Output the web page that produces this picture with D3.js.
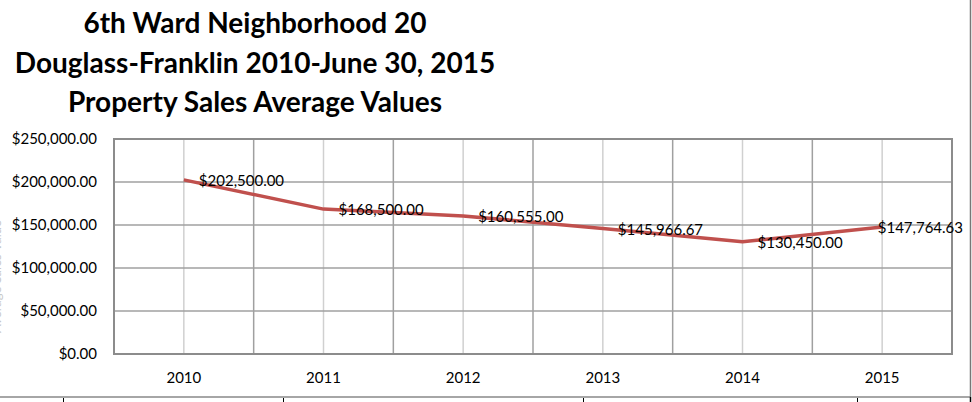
<!DOCTYPE html>
<html>
<head>
<meta charset="utf-8">
<script src="https://cdn.jsdelivr.net/npm/d3@7"></script>
<style>
  html, body { margin: 0; padding: 0; background: #fff; }
  svg { display: block; font-family: Lato, "Open Sans", sans-serif; }
</style>
</head>
<body>
<svg id="chart"></svg>
<script>
// data
const years = ['2010', '2011', '2012', '2013', '2014', '2015'];
const avgValues = [202500.00, 168500.00, 160555.00, 145966.67, 130450.00, 147764.63];
const yTicks = [0, 50000, 100000, 150000, 200000, 250000];
const titleLines = [
    '6th Ward Neighborhood 20',
    'Douglass-Franklin 2010-June 30, 2015',
    'Property Sales Average Values'
];

const W = 972, H = 402;
const margin = {top: 139, right: 20, bottom: 48, left: 114};
const innerW = W - margin.left - margin.right;
const innerH = H - margin.top - margin.bottom;

const svg = d3.select('#chart')
    .attr('width', W)
    .attr('height', H);

const money = v => '$' + d3.format(',.2f')(v);

// outer frame (sheet cell borders)
svg.append('line')
    .attr('x1', 0).attr('x2', 970.5)
    .attr('y1', 397).attr('y2', 397)
    .attr('stroke', '#a6a6a6').attr('stroke-width', 2);
svg.append('line')
    .attr('x1', 970.5).attr('x2', 970.5)
    .attr('y1', 0).attr('y2', 397)
    .attr('stroke', '#777').attr('stroke-width', 1.5);
svg.append('line')
    .attr('x1', 970.5).attr('x2', 970.5)
    .attr('y1', 397).attr('y2', H)
    .attr('stroke', '#000').attr('stroke-width', 1.5);
[63, 283, 583, 857].forEach(x => {
    svg.append('line')
        .attr('x1', x + 0.5).attr('x2', x + 0.5)
        .attr('y1', 398).attr('y2', H)
        .attr('stroke', '#000');
});

// title
svg.append('g')
    .selectAll('text')
    .data(titleLines)
    .join('text')
    .attr('x', 255)
    .attr('y', (d, i) => 33 + i * 39.5)
    .attr('text-anchor', 'middle')
    .style('font-size', '28px')
    .style('font-weight', 'bold')
    .attr('fill', '#000')
    .text(d => d);

// y axis title, mostly outside the left edge as in the original
svg.append('text')
    .attr('transform', `translate(1, ${margin.top + innerH / 2 + 30}) rotate(-90)`)
    .attr('text-anchor', 'middle')
    .style('font-size', '13px')
    .attr('fill', '#c8c8c8')
    .text('Average Sales Value');

const chart = svg.append('g')
    .attr('transform', `translate(${margin.left}, ${margin.top})`);

const xBand = d3.scaleBand()
    .domain(years)
    .range([0, innerW]);

const xscale = d => xBand(d) + xBand.bandwidth() / 2;

const yscale = d3.scaleLinear()
    .domain([0, 250000])
    .range([innerH, 0]);

// light gridlines through category centres
chart.append('g')
    .selectAll('line')
    .data(years)
    .join('line')
    .attr('x1', d => xscale(d)).attr('x2', d => xscale(d))
    .attr('y1', 0).attr('y2', innerH)
    .attr('stroke', '#d0d0d0').attr('stroke-width', 1.5);

// darker gridlines on category boundaries
chart.append('g')
    .selectAll('line')
    .data(years.slice(1))
    .join('line')
    .attr('x1', d => xBand(d)).attr('x2', d => xBand(d))
    .attr('y1', 0).attr('y2', innerH)
    .attr('stroke', '#a0a0a0').attr('stroke-width', 1.5);

// horizontal gridlines
chart.append('g')
    .selectAll('line')
    .data(yTicks)
    .join('line')
    .attr('x1', 0).attr('x2', innerW)
    .attr('y1', d => yscale(d)).attr('y2', d => yscale(d))
    .attr('stroke', '#a0a0a0').attr('stroke-width', 1.5);

// plot frame
chart.append('rect')
    .attr('x', 0).attr('y', 0)
    .attr('width', innerW).attr('height', innerH)
    .attr('fill', 'none')
    .attr('stroke', '#8c8c8c').attr('stroke-width', 2);

// y axis
const yaxis = d3.axisLeft(yscale)
    .tickValues(yTicks)
    .tickSize(0)
    .tickPadding(17)
    .tickFormat(money);
const yaxis_group = chart.append('g').call(yaxis);
yaxis_group.select('.domain').remove();
yaxis_group.selectAll('text')
    .style('font-size', '15px')
    .style('font-family', 'Lato, sans-serif')
    .attr('fill', '#000');

// x axis
const xaxis = d3.axisBottom(xBand)
    .tickSize(0)
    .tickPadding(18);
const xaxis_group = chart.append('g')
    .attr('transform', `translate(0, ${innerH})`)
    .call(xaxis);
xaxis_group.select('.domain').remove();
xaxis_group.selectAll('text')
    .style('font-size', '15px')
    .style('font-family', 'Lato, sans-serif')
    .attr('fill', '#000');

// line
const line = d3.line()
    .x((d, i) => xscale(years[i]))
    .y(d => yscale(d));

chart.append('path')
    .attr('d', line(avgValues))
    .attr('fill', 'none')
    .attr('stroke', '#c0504d')
    .attr('stroke-width', 3.5)
    .attr('stroke-linejoin', 'round');

// data labels to the right of each point, pulled back if past the edge
const labels = chart.append('g')
    .selectAll('text')
    .data(avgValues)
    .join('text')
    .attr('y', d => yscale(d) + 1)
    .attr('dy', '0.35em')
    .style('font-size', '15px')
    .attr('fill', '#000')
    .text(d => money(d));

const maxRight = W - 9 - margin.left;
labels.attr('x', function (d, i) {
    const w = this.getComputedTextLength();
    return Math.min(xscale(years[i]) + 15, maxRight - w);
});
</script>
</body>
</html>
